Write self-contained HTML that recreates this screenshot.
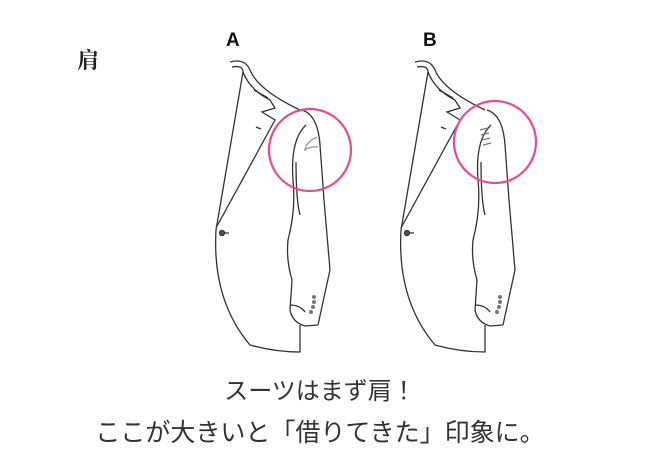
<!DOCTYPE html>
<html><head><meta charset="utf-8"><style>
body{margin:0;width:665px;height:474px;background:#fff;overflow:hidden;position:relative;font-family:"Liberation Sans","Noto Sans CJK JP",sans-serif;color:#333}
.t{position:absolute;white-space:nowrap}
</style></head><body>
<div class="t" style="left:77px;top:44px;font-size:22px;font-weight:bold;font-family:'Noto Serif CJK SC',serif;color:#222">肩</div>
<div class="t" style="left:226px;top:30px;font-size:19px;font-weight:bold;color:#111">A</div>
<div class="t" style="left:423px;top:30px;font-size:19px;font-weight:bold;color:#111">B</div>
<div class="t" style="left:0;width:640px;text-align:center;top:371px;font-size:24px;color:#333">スーツはまず肩！</div>
<div class="t" style="left:0;width:640px;text-align:center;top:413px;font-size:25px;color:#333">ここが大きいと「借りてきた」印象に。</div>
<svg width="665" height="474" style="position:absolute;left:0;top:0" fill="none" stroke="#333" stroke-width="1.3">
<g id="ja">
<path d="M230 62 Q245 58 250 70 Q258 90 300 110"/>
<path d="M232 67 Q243 65 243 72 L216 230 Q212 300 250 345 Q275 352 300 352 L300 325"/>
<path d="M243 72 Q250 90 270 100 L275 108 L262 112 L275 120 L216 228"/>
<path d="M254 90 L268 98"/>
<path d="M256 127 L261 129"/>
<circle cx="222" cy="233" r="2.5" fill="#555"/><path d="M225 233 L229 233"/>
<path d="M302 110 Q318 115 320 145 L324 200 L330 270 L318 325"/>
<path d="M306 125 Q290 140 293 180 Q296 210 288 240 Q286 260 292 280 L290 310 Q292 322 305 326 L318 325"/>
<path d="M290 305 Q300 305 305 312"/>
<path d="M296 162 Q296 200 300 215"/>
</g>
<path d="M317 137 Q306 142 305 150 Q310 146 318 147" stroke="#999"/>
<g fill="#777" stroke="none"><circle cx="314" cy="297" r="2"/><circle cx="314" cy="302" r="2"/><circle cx="313" cy="307" r="2"/><circle cx="311" cy="312" r="2"/></g>
<circle cx="310" cy="150" r="41" stroke="#e94c8d" stroke-width="2.2"/>
<use href="#ja" transform="translate(185,0)"/>
<g stroke="#777"><path d="M480 130 l8 -2 M481 135 l8 -2 M482 140 l8 -2 M483 145 l8 -2"/></g>
<g fill="#777" stroke="none"><circle cx="500" cy="297" r="2"/><circle cx="500" cy="302" r="2"/><circle cx="499" cy="307" r="2"/><circle cx="497" cy="312" r="2"/></g>
<circle cx="495" cy="142" r="41" stroke="#e94c8d" stroke-width="2.2"/>
</svg>
</body></html>
